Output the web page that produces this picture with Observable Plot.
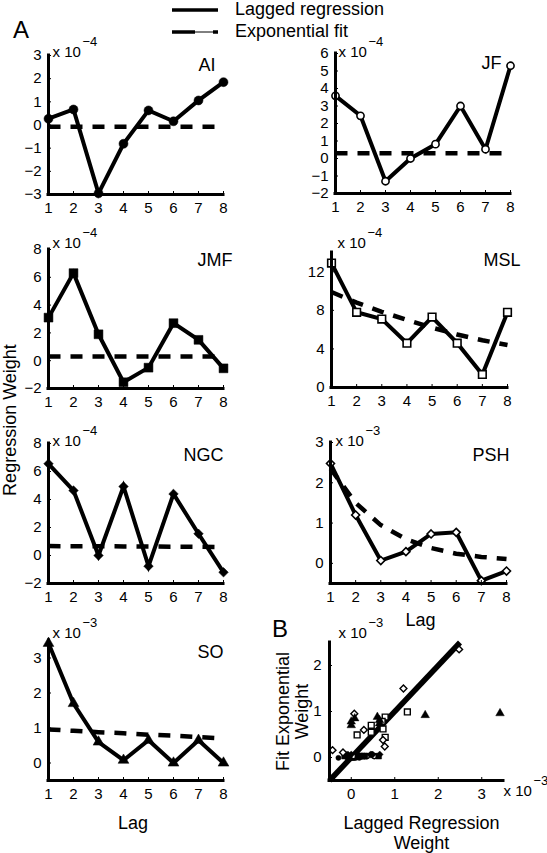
<!DOCTYPE html>
<html>
<head>
<meta charset="utf-8">
<script src="https://cdn.jsdelivr.net/npm/d3@7"></script>
<script src="https://cdn.jsdelivr.net/npm/@observablehq/plot@0.6"></script>
<style>
  html, body { margin: 0; padding: 0; background: #fff; }
  #root { position: relative; width: 547px; height: 853px; overflow: hidden; background: #fff;
          font-family: "Liberation Sans", Arial, Helvetica, sans-serif; color: #000; }
</style>
</head>
<body>
<div id="root"></div>
<script>
// ---------------- DATA ----------------
const lags = [1, 2, 3, 4, 5, 6, 7, 8];

// Panel A — values in units of the multiplier shown on each axis
const aiLagged  = [0.27, 0.67, -2.95, -0.81, 0.63, 0.16, 1.06, 1.85];   // x 10^-4
const aiFit     = [-0.08, -0.08, -0.08, -0.08, -0.08, -0.08, -0.08, -0.08];
const jfLagged  = [3.58, 2.44, -1.3, 0.0, 0.82, 3.0, 0.53, 5.3];         // x 10^-4
const jfFit     = [0.3, 0.3, 0.3, 0.3, 0.3, 0.3, 0.3, 0.3];
const jmfLagged = [3.1, 6.3, 1.9, -1.55, -0.5, 2.7, 1.5, -0.55];        // x 10^-4
const jmfFit    = [0.3, 0.3, 0.3, 0.3, 0.3, 0.3, 0.3, 0.3];
const mslLagged = [12.9, 7.8, 7.1, 4.6, 7.3, 4.6, 1.35, 7.8];          // x 10^-4
const mslFit    = [9.9, 8.8, 7.85, 7.0, 6.2, 5.5, 4.9, 4.4];
const ngcLagged = [6.55, 4.64, 0.0, 4.93, -0.76, 4.4, 1.55, -1.2];      // x 10^-4
const ngcFit    = [0.67, 0.66, 0.66, 0.65, 0.64, 0.63, 0.62, 0.6];
const pshLagged = [2.48, 1.2, 0.07, 0.29, 0.73, 0.77, -0.43, -0.19];    // x 10^-3
const pshFit    = [2.35, 1.5, 0.95, 0.6, 0.38, 0.24, 0.16, 0.11];
const soLagged  = [3.42, 1.7, 0.6, 0.08, 0.65, 0.0, 0.65, 0.0];         // x 10^-3
const soFit     = [0.96, 0.92, 0.88, 0.85, 0.81, 0.78, 0.74, 0.7];

// tick labels
const ticksAI  = [-3, -2, -1, 0, 1, 2, 3];
const ticksJF  = [-2, -1, 0, 1, 2, 3, 4, 5, 6];
const ticksM2  = [-2, 0, 2, 4, 6, 8];
const ticksMSL = [0, 4, 8, 12];
const ticks03  = [0, 1, 2, 3];
const ticksBx  = [0, 1, 2, 3];
const ticksBy  = [0, 1, 2];
// identity reference line of panel B (x 10^-3)
const identityLine = [-0.5, 2.5];

// ---------------- LAYOUT ----------------
const FONT = "'Liberation Sans', Arial, Helvetica, sans-serif";
const ML = 48, MR = 44, MT = 40, MB = 30;
const root = document.getElementById("root");
const fmt = d3.format("~g");

function place(el, left, top) {
  el.style.position = "absolute";
  el.style.left = left + "px";
  el.style.top = top + "px";
  root.appendChild(el);
}

function baseStyle() {
  return {fontFamily: FONT, fontSize: "15px", color: "black", background: "transparent", overflow: "visible"};
}

function label(str, opts) {
  return Plot.text([str], {text: d => d, lineAnchor: "middle", ...opts});
}

function multiplier(exp, anchor, dx, dy) {
  return [
    label("x 10", {frameAnchor: anchor, textAnchor: "start", dx, dy, fontSize: 15}),
    label(exp, {frameAnchor: anchor, textAnchor: "start", dx: dx + 30, dy: dy - 11, fontSize: 13})
  ];
}

function lagPanel(p) {
  const [fx0, fy0, fx1, fy1] = p.frame;
  const rows = lags.map((lag, i) => ({lag, lagged: p.lagged[i], fit: p.fit[i]}));
  const extra = [];
  if (p.lagLabel) extra.push(label("Lag", {frameAnchor: "bottom", textAnchor: "middle", dx: p.lagLabel[0], dy: p.lagLabel[1], fontSize: 18}));
  const chart = Plot.plot({
    width: ML + (fx1 - fx0) + MR, height: MT + (fy1 - fy0) + MB,
    marginLeft: ML, marginRight: MR, marginTop: MT, marginBottom: MB,
    x: {domain: [1, 8], label: null},
    y: {domain: p.yDomain, label: null},
    style: baseStyle(),
    marks: [
      Plot.lineY(rows, {x: "lag", y: "fit", stroke: "black", strokeWidth: 4.5, strokeDasharray: "12,10", strokeLinecap: "butt"}),
      Plot.lineY(rows, {x: "lag", y: "lagged", stroke: "black", strokeWidth: 4, strokeLinejoin: "miter", strokeMiterlimit: 4}),
      Plot.dot(rows, {x: "lag", y: "lagged", symbol: p.symbol, r: p.r,
                      fill: p.hollow ? "white" : "black", stroke: "black", strokeWidth: p.hollow ? 1.6 : 0.5}),
      Plot.ruleX([1], {stroke: "black", strokeWidth: 3, strokeLinecap: "square"}),
      Plot.ruleY([p.yDomain[0]], {stroke: "black", strokeWidth: 3, strokeLinecap: "square"}),
      Plot.axisX({ticks: lags, tickSize: -3, tickPadding: 10.5, tickFormat: fmt, fontSize: 15, label: null}),
      Plot.axisY({ticks: p.yTicks, tickSize: -3, tickPadding: 10, tickFormat: fmt, fontSize: 15, label: null}),
      label(p.name, {frameAnchor: "top-right", textAnchor: "end", dx: p.nameAt[0], dy: p.nameAt[1], fontSize: 18}),
      ...multiplier(p.exp, "top-left", p.multAt[0], p.multAt[1]),
      ...extra
    ]
  });
  place(chart, fx0 - ML, fy0 - MT);
}

const panels = [
  {name: "AI",  lagged: aiLagged,  fit: aiFit,  frame: [48, 55, 223, 194],  yDomain: [-3, 3],    yTicks: ticksAI,  symbol: "circle",   r: 4.5, hollow: false, exp: "\u22124", nameAt: [-8, 10], multAt: [4, -3], unit: 0.1},
  {name: "JF",  lagged: jfLagged,  fit: jfFit,  frame: [335, 53, 510, 193], yDomain: [-2, 6],    yTicks: ticksJF,  symbol: "circle",   r: 3.6, hollow: true,  exp: "\u22124", nameAt: [-9, 10], multAt: [3, -1], unit: 0.1},
  {name: "JMF", lagged: jmfLagged, fit: jmfFit, frame: [48, 249, 223, 388], yDomain: [-2, 8],    yTicks: ticksM2,  symbol: "square",   r: 5,   hollow: false, exp: "\u22124", nameAt: [9, 11],  multAt: [4, -6], unit: 0.1},
  {name: "MSL", lagged: mslLagged, fit: mslFit, frame: [331, 252, 507, 387], yDomain: [0, 14],   yTicks: ticksMSL, symbol: "square",   r: 4.3, hollow: true,  exp: "\u22124", nameAt: [13, 8],  multAt: [6, -9], unit: 0.1},
  {name: "NGC", lagged: ngcLagged, fit: ngcFit, frame: [48, 443, 223, 583], yDomain: [-2, 8],    yTicks: ticksM2,  symbol: "diamond2", r: 4.3, hollow: false, exp: "\u22124", nameAt: [0, 12],  multAt: [4, -2], unit: 0.1},
  {name: "PSH", lagged: pshLagged, fit: pshFit, frame: [330, 442, 506, 583], yDomain: [-0.5, 3], yTicks: ticks03,  symbol: "diamond2", r: 3.6, hollow: true,  exp: "\u22123", nameAt: [3, 13],  multAt: [5, -1], unit: 1, lagLabel: [2, 37]},
  {name: "SO",  lagged: soLagged,  fit: soFit,  frame: [48, 640, 223, 780], yDomain: [-0.5, 3.5], yTicks: ticks03, symbol: "triangle", r: 4,   hollow: false, exp: "\u22123", nameAt: [0, 12],  multAt: [4, -7], unit: 1, lagLabel: [-3, 43]}
];
panels.forEach(lagPanel);

// ---------------- PANEL B ----------------
(function () {
  const [fx0, fy0, fx1, fy1] = [329, 642, 503, 780];
  const bSize = {circle: 2.6, square: 3.3, diamond2: 3.1, triangle: 3.2};
  const dotMarks = panels.map(p => {
    const pts = p.lagged.map((v, i) => ({x: v * p.unit, y: p.fit[i] * p.unit}));
    return Plot.dot(pts, {x: "x", y: "y", symbol: p.symbol, r: bSize[p.symbol],
                          fill: p.hollow ? "white" : "black", stroke: "black", strokeWidth: p.hollow ? 1.4 : 0.4});
  });
  const chart = Plot.plot({
    width: ML + (fx1 - fx0) + MR, height: MT + (fy1 - fy0) + 80,
    marginLeft: ML, marginRight: MR, marginTop: MT, marginBottom: 80,
    x: {domain: [-0.5, 3.5], label: null},
    y: {domain: [-0.5, 2.5], label: null},
    style: baseStyle(),
    marks: [
      Plot.line(identityLine, {x: d => d, y: d => d, stroke: "black", strokeWidth: 5.5, strokeLinecap: "butt"}),
      ...dotMarks,
      Plot.ruleX([-0.5], {stroke: "black", strokeWidth: 3, strokeLinecap: "square"}),
      Plot.ruleY([-0.5], {stroke: "black", strokeWidth: 3, strokeLinecap: "square"}),
      Plot.axisX({ticks: ticksBx, tickSize: -3, tickPadding: 10.5, tickFormat: fmt, fontSize: 15, label: null}),
      Plot.axisY({ticks: ticksBy, tickSize: -3, tickPadding: 11, tickFormat: fmt, fontSize: 15, label: null}),
      ...multiplier("\u22123", "top-left", 9, -9),
      ...multiplier("\u22123", "bottom-right", 0, 11),
      label("Lagged Regression\nWeight", {frameAnchor: "bottom", textAnchor: "middle", dx: 5, dy: 52, fontSize: 18, lineHeight: 1.12}),
      label("Fit Exponential\nWeight", {frameAnchor: "left", textAnchor: "middle", dx: -37, dy: 0, rotate: -90, fontSize: 18, lineHeight: 1.08})
    ]
  });
  place(chart, fx0 - ML, fy0 - MT);
})();

// ---------------- LEGEND & PAGE LABELS ----------------
const ns = "http://www.w3.org/2000/svg";
const svg = document.createElementNS(ns, "svg");
svg.setAttribute("width", 547);
svg.setAttribute("height", 853);
svg.style.position = "absolute"; svg.style.left = "0px"; svg.style.top = "0px";
svg.style.fontFamily = FONT;
svg.innerHTML = `
  <line x1="172" y1="10" x2="218" y2="10" stroke="black" stroke-width="3.5"/>
  <line x1="172" y1="32" x2="195" y2="32" stroke="black" stroke-width="3.5"/>
  <line x1="195" y1="32" x2="213" y2="32" stroke="black" stroke-width="1"/>
  <line x1="213" y1="32" x2="218" y2="32" stroke="black" stroke-width="3.5"/>
  <text x="235" y="15" font-size="18">Lagged regression</text>
  <text x="235" y="37" font-size="18">Exponential fit</text>
  <text x="21" y="38" font-size="24" text-anchor="middle">A</text>
  <text x="280" y="637" font-size="24" text-anchor="middle">B</text>
  <text transform="translate(16,420) rotate(-90)" font-size="18" text-anchor="middle">Regression Weight</text>
`;
root.insertBefore(svg, root.firstChild);
</script>
</body>
</html>
